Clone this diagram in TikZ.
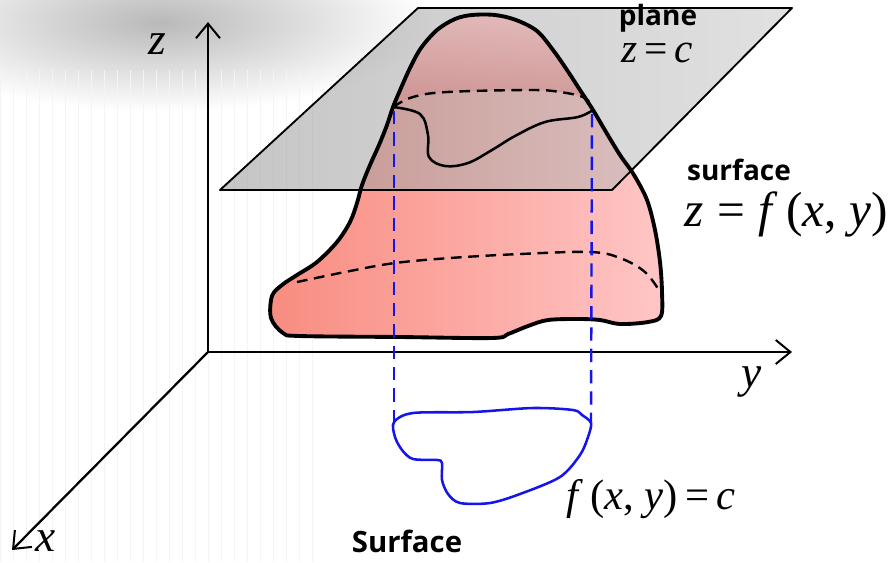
\documentclass[tikz,border=0pt]{standalone}
\usepackage{fontspec}
\setmainfont{Liberation Serif}
\newfontfamily\labelsans{Open Sans}
\usetikzlibrary{arrows.meta}

\definecolor{planeL}{RGB}{150,150,150}
\definecolor{planeR}{RGB}{200,200,200}
\definecolor{blobL}{RGB}{248,140,128}
\definecolor{blobR}{RGB}{255,198,198}
\definecolor{domeT}{RGB}{232,190,190}
\definecolor{domeB}{RGB}{205,140,140}
\definecolor{levelblue}{RGB}{20,20,235}

\tikzset{
  axis/.style={line width=1.7pt, -{Straight Barb[length=11pt,width=18pt,line width=1.5pt]}},
  outline/.style={line width=2.9pt, line join=round},
  hidden/.style={line width=1.8pt, dash pattern=on 8pt off 5pt},
  proj/.style={levelblue, line width=1.8pt, dash pattern=on 10pt off 6pt},
  contour/.style={levelblue, line width=1.9pt, line join=round},
  mathlbl/.style={inner sep=0pt, font=\fontsize{#1}{#1}\selectfont},
  boldlbl/.style={inner sep=0pt, font=\labelsans\bfseries\fontsize{#1}{#1}\selectfont},
}

\begin{document}
\begin{tikzpicture}[x=0.75pt,y=-0.75pt]
\useasboundingbox (0,0) rectangle (891,562);

% soft grey haze and faint paper grid in the upper left
\shade[inner color=gray!55, outer color=white] (160,22) ellipse [x radius=270, y radius=90];
\begin{scope}
  \clip (0,70) rectangle (320,562);
  \draw[gray!9, line width=0.5pt, step=13] (0,70) grid (320,562);
\end{scope}

% coordinate axes
\coordinate (O) at (208,352);
\coordinate (Ztip) at (208,22);
\coordinate (Ytip) at (792,352);
\coordinate (Xtip) at (12,550);
\draw[axis] (O) -- (Ztip);
\draw[axis] (O) -- (Ytip);
\draw[axis] (O) -- (Xtip);
\node[mathlbl=34pt] (zlab) at (157,44) {\textit{z}};
\node[mathlbl=34pt] (ylab) at (752,382) {\textit{y}};
\node[mathlbl=34pt] (xlab) at (46,541) {\textit{x}};

% the surface z = f(x,y)
\def\blobpath{plot[smooth cycle, tension=0.55] coordinates {
  (393,107) (401,88) (410,68) (421,48) (437,30) (455,19) (472,15) (495,15)
  (516,20) (537,31) (553,50) (567,70) (580,90) (593,110) (606,132) (620,155) (634,175)
  (647,200) (655,230) (660,262) (662,292) (661,316) (648,322) (620,324)
  (600,320) (578,319) (548,320) (528,326) (508,334) (492,338) (400,337)
  (300,336) (283,333) (271,318) (272,296) (282,285) (297,275) (317,262)
  (337,242) (350,222) (357,203) (362,185) (370,165) (379,145) (387,125)}}
\shade[left color=blobL, right color=blobR] \blobpath;

% horizontal plane z = c
\coordinate (P1) at (220,190);
\coordinate (P2) at (418,8);
\coordinate (P3) at (792,8);
\coordinate (P4) at (612,190);
\shade[left color=planeL, right color=planeR, opacity=0.55] (P1) -- (P2) -- (P3) -- (P4) -- cycle;

% cap of the surface above the cutting plane
\coordinate (SL) at (393,107);
\coordinate (SR) at (593,110);
\shade[top color=domeT, bottom color=domeB, opacity=0.75]
  plot[smooth, tension=0.55] coordinates {(393,107) (401,88) (410,68) (421,48) (437,30) (455,19) (472,15) (495,15) (516,20) (537,31) (553,50) (567,70) (580,90) (593,110)}
  -- plot[smooth, tension=0.6] coordinates {(593,110) (585,98) (560,92) (530,90) (447,92) (413,97) (393,107)} -- cycle;

% hidden level lines on the surface
\draw[hidden] plot[smooth, tension=0.6] coordinates {(SL) (413,97) (447,92) (530,90) (560,92) (585,98) (SR)};
\draw[hidden] plot[smooth, tension=0.6] coordinates {(297,282) (350,271) (395,263) (450,258) (520,254) (590,252) (620,258) (645,272) (660,292)};

% visible section curve in the plane
\draw[line width=1.9pt] plot[smooth, tension=0.6] coordinates {(SL) (420,114) (428,135) (429,157) (445,166) (468,163) (492,150) (515,136) (545,122) (578,117) (SR)};

% outlines
\draw[outline] \blobpath;
\draw[line width=1.4pt, line join=round] (P1) -- (P2) -- (P3) -- (P4) -- cycle;

% level curve in the xy-plane and its projection lines
\coordinate (CL) at (394,422);
\coordinate (CR) at (591,423);
\draw[proj] (SL) ++(1,4) -- (CL);
\draw[proj] (SR) ++(-1,4) -- (CR);
\draw[contour] plot[smooth cycle, tension=0.5] coordinates {
  (CL) (413,413) (473,412) (533,408) (573,410) (582,415) (CR) (588,437)
  (580,455) (560,477) (520,494) (490,503) (460,503) (448,494) (442,480)
  (442,463) (437,460) (413,459) (402,450) (395,437)};

% labels
\node[boldlbl=21pt] (planelab) at (658,18) {plane};
\node[mathlbl=31pt] (zceq) at (657,53) {\textit{z}\,=\,\textit{c}};
\node[boldlbl=21pt] (surflab) at (739,170) {surface};
\node[mathlbl=37pt] (zfeq) at (786,214) {\textit{z}\;=\;\textit{f}\,(\textit{x}, \textit{y})};
\node[mathlbl=32pt] (leveleq) at (651,499) {\textit{f}\,(\textit{x}, \textit{y})\,=\,\textit{c}};
\node[boldlbl=22pt] (surfbot) at (407,541) {Surface};
\end{tikzpicture}
\end{document}
